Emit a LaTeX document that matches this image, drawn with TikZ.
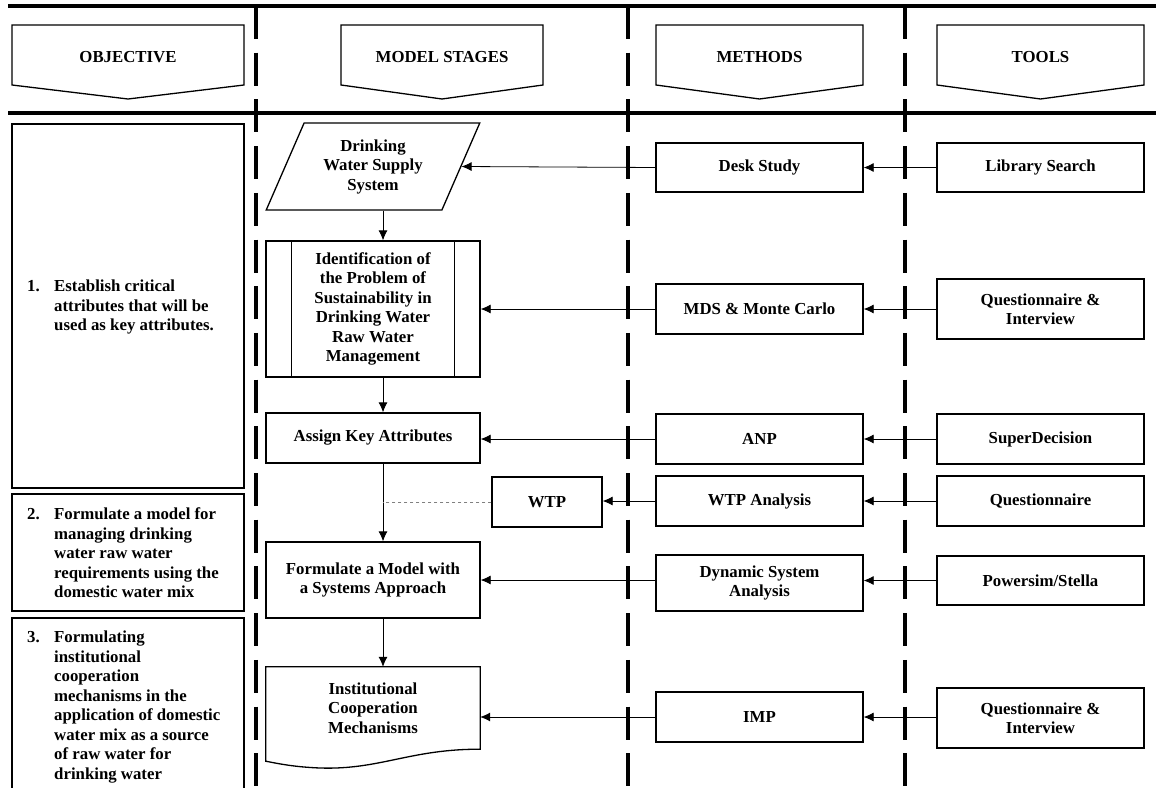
\documentclass[tikz,border=0pt]{standalone}
\usepackage{fontspec}
\setmainfont{Liberation Serif}
\usetikzlibrary{arrows.meta,shapes.geometric}
\begin{document}
\begin{tikzpicture}[x=1pt,y=-1pt,
 txt/.style={font=\fontsize{16.8}{19.5}\selectfont\bfseries},
 box/.style={txt, draw, line width=1.3pt, fill=white, align=center, inner sep=2pt},
 mbox/.style={box, minimum width=207pt, minimum height=49pt},
 sbox/.style={box, minimum width=214pt},
 conn/.style={line width=0.8pt, -{Latex[length=10pt,width=9pt]}},
 lane/.style={line width=4pt, dash pattern=on 33pt off 13.7pt},
 rulel/.style={line width=3.5pt},
 hdr/.style={draw, line width=1.3pt, fill=white},
 objbox/.style={draw, line width=1.5pt},
 objtxt/.style={txt, align=left, inner sep=0pt},
]
\useasboundingbox (0,0) rectangle (1156,787);
\fill[white] (0,0) rectangle (1156,787);
\clip (0,0) rectangle (1156,787);

% rules and lanes
\draw[rulel] (8,6) -- (1156,6);
\draw[rulel] (8,113) -- (1156,113);
\draw[lane] (256,6) -- (256,800);
\draw[lane] (628,6) -- (628,800);
\draw[lane] (905,6) -- (905,800);

% headers
\path[hdr] (12,25) -- (244,25) -- (244,85) -- (128,99) -- (12,85) -- cycle;
\node[txt] (hobj) at (128,57) {OBJECTIVE};
\path[hdr] (341,25) -- (543,25) -- (543,85) -- (442,99) -- (341,85) -- cycle;
\node[txt] (hms) at (442,57) {MODEL STAGES};
\path[hdr] (656,25) -- (863,25) -- (863,85) -- (759.5,99) -- (656,85) -- cycle;
\node[txt] (hme) at (759.5,57) {METHODS};
\path[hdr] (937,25) -- (1144,25) -- (1144,85) -- (1040.5,99) -- (937,85) -- cycle;
\node[txt] (hto) at (1040.5,57) {TOOLS};

% objective boxes
\draw[objbox] (12,124) rectangle (244,488);
\node[objtxt, anchor=west] (ob1) at (27,307) {\makebox[27pt][l]{1.}Establish critical\\\hspace*{27pt}attributes that will be\\\hspace*{27pt}used as key attributes.};
\draw[objbox] (12,494) rectangle (244,611);
\node[objtxt, anchor=west] (ob2) at (27,553) {\makebox[27pt][l]{2.}Formulate a model for\\\hspace*{27pt}managing drinking\\\hspace*{27pt}water raw water\\\hspace*{27pt}requirements using the\\\hspace*{27pt}domestic water mix};
\draw[objbox] (12,800) -- (12,618) -- (244,618) -- (244,800);
\node[objtxt, anchor=north west] (ob3) at (27,631) {\makebox[27pt][l]{3.}Formulating\\\hspace*{27pt}institutional\\\hspace*{27pt}cooperation\\\hspace*{27pt}mechanisms in the\\\hspace*{27pt}application of domestic\\\hspace*{27pt}water mix as a source\\\hspace*{27pt}of raw water for\\\hspace*{27pt}drinking water};

% model stages
\node[box, shape=trapezium, trapezium left angle=64, trapezium right angle=116, trapezium stretches=true, minimum width=214pt, minimum height=87pt] (dws) at (373,166.5) {Drinking\\Water Supply\\System};
\node[sbox, minimum height=136pt] (idp) at (373,309) {Identification of\\the Problem of\\Sustainability in\\Drinking Water\\Raw Water\\Management};
\draw[line width=1.3pt] ([xshift=26pt]idp.north west) -- ([xshift=26pt]idp.south west);
\draw[line width=1.3pt] ([xshift=-26pt]idp.north east) -- ([xshift=-26pt]idp.south east);
\node[sbox, minimum height=50pt] (aka) at (373,438) {Assign Key Attributes};
\node[box, minimum width=110pt, minimum height=50pt] (wtp) at (547,502) {WTP};
\node[sbox, minimum height=76pt] (fm) at (373,580) {Formulate a Model with\\a Systems Approach};
\node[txt, align=center, minimum width=214pt, minimum height=82pt, inner sep=2pt] (inst) at (373,708) {Institutional\\Cooperation\\Mechanisms};
\draw[line width=1.3pt] (inst.south east) .. controls (410,749) and (380,770) .. (320,768) .. controls (295,767) and (280,764) .. ([yshift=-12pt]inst.south west) -- (inst.north west) -- (inst.north east) -- cycle;

% methods
\node[mbox] (desk) at (759.5,167.5) {Desk Study};
\node[mbox, minimum height=50pt] (mds) at (759.5,309) {MDS \& Monte Carlo};
\node[mbox, minimum height=50pt] (anp) at (759.5,439) {ANP};
\node[mbox, minimum height=50pt] (wtpa) at (759.5,501) {WTP Analysis};
\node[mbox, minimum height=56pt] (dyn) at (759.5,583) {Dynamic System\\Analysis};
\node[mbox, minimum height=50pt] (imp) at (759.5,717) {IMP};

% tools
\node[mbox] (lib) at (1040.5,167.5) {Library Search};
\node[mbox, minimum height=60pt] (qi1) at (1040.5,309) {Questionnaire \&\\Interview};
\node[mbox, minimum height=50pt] (sd) at (1040.5,439) {SuperDecision};
\node[mbox, minimum height=50pt] (q) at (1040.5,501) {Questionnaire};
\node[mbox] (pow) at (1040.5,580.5) {Powersim/Stella};
\node[mbox, minimum height=60pt] (qi2) at (1040.5,718) {Questionnaire \&\\Interview};

% vertical flow
\coordinate (ax) at (383,0);
\draw[conn] (dws.south -| ax) -- (idp.north -| ax);
\draw[conn] (idp.south -| ax) -- (aka.north -| ax);
\draw[conn] (aka.south -| ax) -- (fm.north -| ax);
\draw[conn] (fm.south -| ax) -- (inst.north -| ax);
\draw[dashed, gray, line width=0.8pt] (wtp.west) -- (wtp.west -| ax);

% horizontal flow
\draw[conn] (lib.west) -- (desk.east);
\draw[conn] (desk.west) -- (dws.east);
\draw[conn] (qi1.west) -- (mds.east);
\draw[conn] (mds.west) -- (idp.east);
\draw[conn] (sd.west) -- (anp.east);
\draw[conn] (anp.west) -- (anp.west -| aka.east);
\draw[conn] (q.west) -- (wtpa.east);
\draw[conn] (wtpa.west) -- (wtpa.west -| wtp.east);
\draw[conn] (pow.west) -- (pow.west -| dyn.east);
\draw[conn] (dyn.west |- fm.east) -- (fm.east);
\draw[conn] (qi2.west |- imp.east) -- (imp.east);
\draw[conn] (imp.west) -- (imp.west -| inst.east);
\end{tikzpicture}
\end{document}
